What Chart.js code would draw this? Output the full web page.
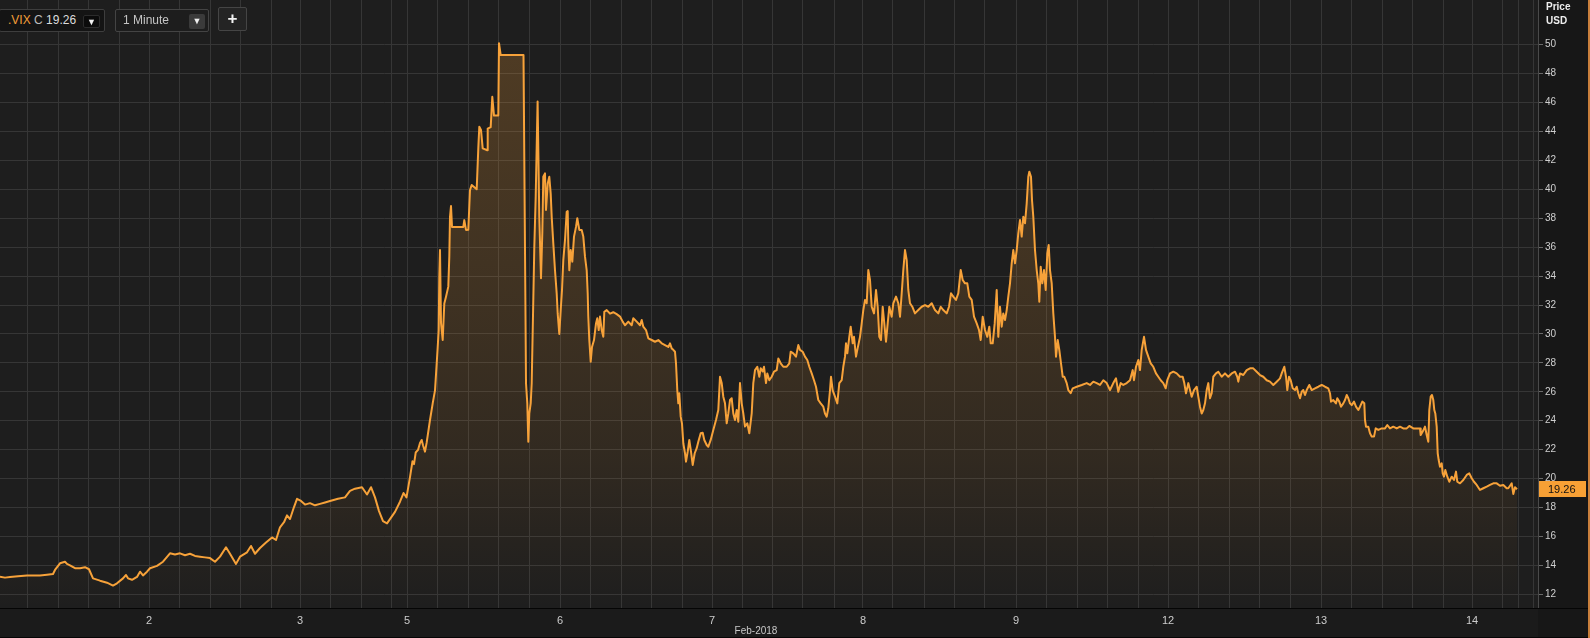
<!DOCTYPE html>
<html>
<head>
<meta charset="utf-8">
<script src="https://cdn.jsdelivr.net/npm/chart.js@4.4.1/dist/chart.umd.min.js"></script>
<style>
html,body{margin:0;padding:0;background:#171717;overflow:hidden}
#wrap{position:relative;width:1590px;height:638px}
#c{position:absolute;left:0;top:0}
.tb{position:absolute;box-sizing:border-box;font-family:'Liberation Sans',Arial,sans-serif;font-size:12px;line-height:20px;white-space:nowrap}
#sym{left:-1px;top:9px;width:106px;height:23px;background:#141414;border:1px solid #3e3e3e;border-radius:2px;padding-left:8px;color:#dcdcdc}
#sym .ric{color:#f29d38}
#sym .cl{color:#bbbbbb}
#intv{left:115px;top:9px;width:94px;height:23px;background:#1d1d1d;border:1px solid #444;border-radius:2px;padding-left:7px;color:#c4c4c4}
.dd{position:absolute;top:5px;width:17px;height:13px;border-radius:2px;font-size:9px;line-height:13px;text-align:center;color:#f0f0f0}
#sym .dd{left:83px;background:#0b0b0b;border:1px solid #2c2c2c;box-sizing:border-box}
#intv .dd{left:73px;top:4px;width:16px;height:15px;line-height:15px;background:#3a3a3a}
#plus{left:218px;top:7px;width:29px;height:24px;background:#242424;border:1px solid #454545;border-radius:2px;color:#f2f2f2;font-size:17px;font-weight:bold;text-align:center;line-height:21px}
</style>
</head>
<body>
<div id="wrap">
<canvas id="c" width="1590" height="638"></canvas>
<div class="tb" id="sym"><span class="ric">.VIX</span> <span class="cl">C</span> 19.26<span class="dd">&#9660;</span></div>
<div class="tb" id="intv">1 Minute<span class="dd">&#9660;</span></div>
<div class="tb" id="plus">+</div>
</div>
<script>
// ---- data: [time index, VIX value] per trading session ----
const day1 = [[0,13.22],[5,13.15],[10,13.2],[18,13.25],[27,13.29],[33,13.3],[40,13.3],[47,13.35],[53,13.4],[55,13.68],[60,14.14],[65,14.25],[67,14.1],[70,14.0],[75,13.8],[80,13.8],[85,13.87],[89,13.73],[93,13.1],[100,12.94],[107,12.8],[113,12.6],[117,12.76],[123,13.1],[126,13.33],[128,13.1],[132,13.0],[137,13.2],[140,13.56],[143,13.3],[147,13.56]];
const day2 = [[150,13.8],[157,13.96],[163,14.25],[170,14.83],[175,14.75],[180,14.83],[185,14.7],[190,14.8],[195,14.65],[200,14.6],[205,14.55],[210,14.5],[215,14.25],[220,14.6],[226,15.25],[230,14.8],[236,14.1],[240,14.6],[247,14.9],[251,15.34],[255,14.8],[260,15.2],[266,15.58],[272,15.93],[276,15.75],[280,16.63],[284,16.98],[287,17.46],[290,17.2],[294,18.03],[297,18.6]];
const day3 = [[301,18.45],[305,18.2],[310,18.3],[315,18.15],[320,18.25],[325,18.35],[330,18.45],[338,18.6],[345,18.7],[350,19.15],[355,19.3],[362,19.4],[367,18.9],[371,19.4],[375,18.7],[379,17.75],[383,17.05],[387,16.9],[391,17.3],[395,17.7],[400,18.4],[403.5,19.0],[406.5,18.7]];
const day5 = [[410,20.1],[412.5,21.2],[414,21.0],[415.7,21.8],[418,21.98],[420,22.46],[421.7,22.67],[423,22.3],[425,21.86],[426.7,22.5],[430,24.05],[432.7,25.2],[435,26.1],[436.7,27.97],[437.7,29.1],[438.7,30.27],[439.3,33.96],[440,35.8],[441,30.76],[442.7,29.58],[444.3,32.1],[446,32.57],[448.3,33.27],[449.3,35.34],[450,38.1],[451,38.84],[452,37.4],[456.7,37.4],[463.3,37.4],[464.3,37.87],[466,37.19],[468.3,37.2],[470,39.95],[471.7,40.3],[476.7,40.0],[478.3,42.83],[479.3,44.33],[481,44.1],[482.7,42.83],[487.3,42.7],[487.7,44.2],[490.7,44.3],[492.3,46.4],[494,45.1],[498.3,45.1],[499,50.1],[500.7,49.28],[523.5,49.28],[525,35.8],[526,26.6],[527.3,25.2],[528.3,22.55],[529.3,24.5],[530.7,25.2],[531.7,26.6],[533.3,32.35],[534.3,36.0],[535.7,39.5],[537.6,46.07],[539.3,38.1],[541,33.85],[542.3,36.96],[543.3,40.87],[545,41.1],[546,38.57],[547.7,40.4],[549.3,40.87],[550.7,39.7],[551.7,38.1],[553.3,36.26],[555,34.4],[556.7,32.8],[557.7,31.4],[559.3,30.0]];
const day6 = [[560.7,31.65],[562,33.04],[563.3,35.1],[565,36.5],[566.7,38.45],[567.7,38.5],[568.3,36.26],[569.3,34.4],[570.7,35.8],[572.3,35.0],[574,36.73],[576,37.4],[577.3,38.0],[579.3,37.19],[581.7,37.19],[583.3,36.73],[585,35.34],[586.7,34.4],[587.7,32.8],[588.3,31.2],[589.3,29.58],[590.7,28.08],[592,29.1],[594,29.58],[596,30.73],[597.3,31.08],[598.7,30.27],[600,31.2],[601.7,30.27],[603.3,29.8],[604.3,31.53],[606.7,31.65],[610,31.4],[613.3,31.5],[616.7,31.37],[620,31.2],[622.7,30.85],[625,30.6],[628.3,30.85],[631.7,30.6],[633.3,31.08],[636.7,30.85],[640,30.6],[641.7,30.96],[643.3,30.5],[646,30.27],[648.3,29.7],[651.7,29.58],[655,29.46],[658.3,29.58],[661.7,29.35],[665,29.23],[668.3,29.1],[670,29.35],[671.7,29.0],[673.3,28.9],[675,28.77],[676,27.97],[677.3,26.1],[678.3,25.2],[679.3,25.9],[680.7,24.28],[682,23.8],[683.3,22.44],[685,21.75],[686,21.17],[687.7,21.86],[689.3,22.67],[691,21.86],[692.7,20.94],[694.7,21.75],[696.7,22.1],[698.3,22.55],[700.7,23.13],[702.7,23.17],[704.3,22.67],[706.7,22.32],[708.3,22.2],[710.7,22.67]];
const day7 = [[713.3,23.36],[716,24.05],[718.3,24.74],[720,27.04],[721.7,26.6],[723.3,25.66],[725,25.2],[726.7,23.82],[728.3,24.5],[730,25.43],[731.7,25.55],[733.3,24.5],[735,24.05],[736.7,24.74],[738.3,23.93],[740,26.6],[741.7,25.2],[743.3,24.5],[745,23.6],[747.3,23.82],[749.3,23.13],[751.7,24.5],[753.3,26.6],[755,27.5],[757.3,27.73],[759.3,27.04],[760.7,27.62],[762.7,27.4],[764,27.73],[766,26.6],[767.3,27.27],[769.3,26.8],[771.7,27.04],[774,27.39],[776.7,27.5],[778.3,28.3],[780.7,27.97],[783.3,27.73],[786.7,27.73],[789.3,27.97],[790.7,28.77],[793.3,28.66],[796,28.43],[798.3,29.23],[800,28.9],[802.7,28.77],[805,28.43],[807.3,28.2],[809.3,27.73],[811.7,27.27],[814,26.8],[816,26.35],[818.3,25.43],[820.7,25.2],[823.3,24.97],[825,24.5],[826.7,24.28],[828.3,24.86],[830,26.1],[831,27.04],[832.7,26.1],[835,25.66],[837.3,25.2],[839.3,26.6],[841.7,26.8],[843.3,27.73],[845,28.43],[846,29.35],[847.3,28.66],[849.3,29.8],[850.7,30.5],[852.7,29.35],[854,29.8],[856,28.43],[857.3,28.9],[860,29.8],[861.7,30.73]];
const day8 = [[863.3,31.65],[865,32.35],[866.7,32.12],[868.3,34.42],[870,33.73],[871.7,31.88],[874,31.42],[876,33.04],[877.7,31.88],[879.3,29.8],[881,29.58],[882.7,31.88],[884.3,30.73],[886,29.46],[887.7,30.73],[889.3,31.88],[891.7,31.19],[893.3,32.12],[896,32.58],[898.3,32.12],[900,31.19],[901.7,32.81],[903.3,34.42],[905,35.8],[906.7,35.1],[908.3,33.04],[910,32.12],[912.3,31.88],[915,31.42],[918.3,31.65],[921.7,31.88],[925,32.0],[928.3,31.88],[931.7,32.12],[935,31.65],[938.3,31.42],[940.7,31.88],[943.3,31.65],[946.7,31.42],[949,31.88],[951,32.81],[953.3,32.58],[956,32.35],[958.3,32.81],[960.7,34.42],[962.7,33.73],[965,33.5],[967.3,33.5],[969.3,32.58],[971.7,32.35],[974,31.19],[976.7,30.73],[979,30.27],[980.7,29.58],[982.7,31.19],[985,30.27],[987.3,29.8],[989.3,30.5],[990.7,29.35],[992.7,29.35],[994.7,30.73],[996.7,33.04],[998.3,29.8],[1000,31.88],[1001.7,30.5],[1003.3,31.42],[1005,30.96],[1006.7,31.65],[1008.3,32.58],[1010,33.5],[1011.7,34.88],[1013.3,35.8],[1015,34.88]];
const day9 = [[1016.7,35.8],[1018.3,36.96],[1020,37.88],[1021.7,36.73],[1023.3,38.1],[1025,37.65],[1026.7,39.03],[1028.3,40.87],[1029.3,41.22],[1031,40.87],[1032,39.26],[1033.3,38.1],[1035,35.8],[1036.7,34.42],[1038.3,33.5],[1039.3,32.23],[1040.7,34.65],[1042.3,33.5],[1044,34.42],[1045.7,33.04],[1047.3,35.57],[1048.7,36.15],[1050,34.42],[1051.7,33.5],[1053.3,31.42],[1055,29.8],[1056,28.43],[1057.7,29.58],[1059.3,28.89],[1061,27.97],[1062.7,27.04],[1064.3,27.04],[1066.7,26.6],[1068.3,26.12],[1070.7,25.9],[1072.7,26.24],[1076.7,26.35],[1081.7,26.47],[1086.7,26.6],[1090,26.47],[1093.3,26.7],[1096.7,26.6],[1100,26.47],[1103.3,26.8],[1106.7,26.6],[1110,26.12],[1113.3,26.6],[1116,26.93],[1118.3,26.0],[1120.7,26.6],[1123.3,26.47],[1126.7,26.6],[1130,26.8],[1132.7,27.5],[1134,26.8],[1136,27.73],[1138.3,28.2],[1140,27.5],[1141.7,28.9],[1144,29.8],[1146,28.9],[1148.3,28.43],[1150.7,27.97],[1153.3,27.73],[1156,27.27],[1158.3,27.04],[1160.7,26.8],[1163.3,26.6],[1165.7,26.24],[1167.3,26.8]];
const day12 = [[1170,27.27],[1173.3,27.39],[1176.7,27.27],[1180,27.04],[1182.7,27.04],[1184.3,26.6],[1186,25.9],[1188.3,26.6],[1190,26.12],[1191.7,25.66],[1194,26.12],[1196.7,26.35],[1198.3,25.66],[1200,24.97],[1201.7,24.5],[1203.3,24.74],[1205,25.2],[1206.7,26.12],[1208.3,26.6],[1210,25.55],[1211.7,25.9],[1213.3,27.04],[1216,27.27],[1218.3,27.39],[1221.7,27.04],[1225,27.27],[1228.3,27.04],[1231.7,27.27],[1235,27.39],[1237.3,27.04],[1238.3,26.7],[1240,27.27],[1243.3,27.16],[1246.7,27.5],[1250,27.62],[1253.3,27.62],[1256.7,27.39],[1260,27.16],[1263.3,27.04],[1266.7,26.8],[1270,26.7],[1273.3,26.47],[1276.7,26.7],[1280,26.93],[1281.7,27.27],[1284.3,27.73],[1286,27.04],[1287.3,26.12],[1289,27.04],[1290.7,26.8],[1292.7,26.24],[1295,26.12],[1296.7,26.35],[1298.3,25.9],[1300,25.55],[1301.7,26.0],[1303.3,26.12],[1305,25.78],[1306.7,26.12],[1309.3,26.47],[1311.7,26.12],[1315,26.24],[1318.3,26.35]];
const day13 = [[1321.7,26.47],[1325,26.35],[1328.3,26.24],[1330,25.9],[1331,25.32],[1333.3,25.43],[1336,25.2],[1337.3,25.55],[1339.3,25.32],[1341,24.97],[1343.3,25.2],[1345,25.43],[1346.7,25.78],[1348.3,25.55],[1350,25.2],[1351.7,25.08],[1354,25.32],[1356,24.97],[1358.3,24.74],[1360,24.97],[1362.3,25.32],[1364.3,25.2],[1365,24.05],[1366,23.59],[1368.3,23.59],[1370,23.13],[1371.7,22.9],[1374,22.9],[1375.7,23.47],[1378.3,23.36],[1381.7,23.47],[1385,23.47],[1387.3,23.7],[1390,23.47],[1393.3,23.59],[1396.7,23.47],[1400,23.59],[1403.3,23.47],[1406.7,23.47],[1409.3,23.64],[1413.3,23.47],[1416.7,23.47],[1420,23.47],[1420.7,23.01],[1422.7,23.25],[1425,23.59],[1426.7,23.01],[1428.3,22.55],[1429.3,24.74],[1430.7,25.66],[1432,25.78],[1433.3,25.43],[1434.3,24.74],[1435.3,24.5],[1436.7,23.59],[1437.7,21.75],[1438.7,21.28],[1440,20.82],[1441.7,21.05],[1442.7,20.36],[1444,20.13],[1445.3,20.59],[1447.3,20.13],[1449.3,19.78],[1451.7,20.13],[1454,19.9],[1456,20.48],[1457.3,19.78],[1460,19.67],[1463.3,19.9],[1466.7,20.25],[1469.3,20.36],[1471.7,20.02]];
const day14 = [[1474,19.78],[1476.7,19.56],[1480,19.21],[1483.3,19.33],[1486.7,19.44],[1490,19.56],[1493.3,19.67],[1496.7,19.67],[1500,19.5],[1503.3,19.56],[1506.7,19.33],[1508.3,19.33],[1511.7,19.67],[1513.3,18.94],[1515,19.4],[1517,19.26]];

// session starts on the time axis and their labels
const sessionStarts = [-3, 149, 300, 407, 560, 712, 863, 1016, 1168, 1321, 1472];
const sessionLabels = ['1', '2', '3', '5', '6', '7', '8', '9', '12', '13', '14'];
const nowMarker = 1518;
const timeMin = 0, timeMax = 1538;
const priceTicks = [12,14,16,18,20,22,24,26,28,30,32,34,36,38,40,42,44,46,48,50];
const priceMin = 11.05, priceMax = 53.09;
const lastPrice = 19.26;
const axisTitle = ['Price', 'USD'];
const monthLabel = 'Feb-2018';

const series = [].concat(day1, day2, day3, day5, day6, day7, day8, day9, day12, day13, day14)
  .map(p => ({x: p[0], y: p[1]}));

// grid positions: every fifth of a session
const sessionLen = 152;
const gridTicks = [];
sessionStarts.forEach((s, i) => {
  const end = i + 1 < sessionStarts.length ? sessionStarts[i + 1] : timeMax;
  for (let k = 0; k < 5; k++) {
    const v = s + k * sessionLen / 5;
    if (v < end - 5 && v > timeMin && v < timeMax) gridTicks.push(Math.round(v));
  }
});
gridTicks.push(nowMarker);
gridTicks.sort((a, b) => a - b);

const FONT = "'Liberation Sans', Arial, sans-serif";
const ORANGE = '#f7a23a';

const decor = {
  id: 'decor',
  beforeDraw(chart) {
    const {ctx, chartArea: a, width, height} = chart;
    ctx.save();
    ctx.fillStyle = '#171717';
    ctx.fillRect(0, 0, width, height);
    ctx.fillStyle = '#1b1b1b';
    ctx.fillRect(0, a.bottom, a.right, height - a.bottom);
    ctx.fillStyle = '#1e1e1e';
    ctx.fillRect(a.left, a.top, a.right - a.left, a.bottom - a.top);
    ctx.restore();
  },
  afterDraw(chart) {
    const {ctx, chartArea: a, width, height} = chart;
    const ys = chart.scales.y;
    ctx.save();
    // separators
    ctx.fillStyle = '#050505';
    ctx.fillRect(0, a.bottom, width, 1);
    ctx.fillRect(0, height - 1, width, 1);
    // axis title
    ctx.fillStyle = '#eeeeee';
    ctx.font = "bold 10px " + FONT;
    ctx.textBaseline = 'middle';
    ctx.textAlign = 'left';
    ctx.fillText(axisTitle[0], a.right + 8, 7);
    ctx.fillText(axisTitle[1], a.right + 8, 21);
    // month label
    ctx.fillStyle = '#c8c8c8';
    ctx.font = "10px " + FONT;
    ctx.textAlign = 'center';
    ctx.fillText(monthLabel, (a.left + a.right) / 2 - 13, a.bottom + 23);
    // last price tag
    const py = Math.round(ys.getPixelForValue(lastPrice));
    ctx.fillStyle = '#f7a035';
    ctx.fillRect(a.right + 1, py - 8, 47, 16);
    ctx.fillStyle = '#111111';
    ctx.font = "11px " + FONT;
    ctx.textAlign = 'left';
    ctx.fillText(lastPrice.toFixed(2), a.right + 10, py + 1);
    // right edge accent
    ctx.fillStyle = '#c97f3c';
    ctx.fillRect(width - 2, 0, 2, height);
    ctx.restore();
  }
};

new Chart(document.getElementById('c'), {
  type: 'line',
  data: {
    datasets: [{
      data: series,
      borderColor: ORANGE,
      borderWidth: 2,
      borderJoinStyle: 'round',
      pointRadius: 0,
      tension: 0,
      fill: 'start',
      backgroundColor: (context) => {
        const {ctx, chartArea} = context.chart;
        if (!chartArea) return 'rgba(247,160,55,0.1)';
        const g = ctx.createLinearGradient(0, chartArea.top, 0, chartArea.bottom);
        g.addColorStop(0, 'rgba(247,160,55,0.24)');
        g.addColorStop(0.5, 'rgba(247,160,55,0.15)');
        g.addColorStop(0.75, 'rgba(247,160,55,0.09)');
        g.addColorStop(0.88, 'rgba(247,160,55,0.045)');
        g.addColorStop(1, 'rgba(247,160,55,0.0)');
        return g;
      }
    }]
  },
  options: {
    responsive: false,
    animation: false,
    devicePixelRatio: 1,
    layout: {padding: 0},
    plugins: {legend: {display: false}, tooltip: {enabled: false}},
    scales: {
      x: {
        type: 'linear',
        position: 'bottom',
        min: timeMin,
        max: timeMax,
        afterBuildTicks: s => { s.ticks = gridTicks.map(v => ({value: v})); },
        afterFit: s => { s.height = 30; s.paddingLeft = 0; s.paddingRight = 0; },
        grid: {color: '#363636', lineWidth: 1, drawTicks: false},
        border: {display: false},
        ticks: {
          autoSkip: false, maxRotation: 0, padding: 6,
          color: '#cccccc', font: {family: FONT, size: 11},
          callback: (v) => {
            const i = sessionStarts.indexOf(v);
            return i >= 0 ? sessionLabels[i] : '';
          }
        }
      },
      y: {
        position: 'right',
        min: priceMin,
        max: priceMax,
        afterBuildTicks: s => { s.ticks = priceTicks.map(v => ({value: v})); },
        afterFit: s => { s.width = 52; s.paddingTop = 0; s.paddingBottom = 0; },
        grid: {color: '#363636', tickColor: '#6a6a6a', tickLength: 5, lineWidth: 1},
        border: {display: true, color: '#4a4a4a'},
        ticks: {padding: 2, color: '#d0d0d0', font: {family: FONT, size: 10}, callback: v => String(v)}
      }
    }
  },
  plugins: [decor]
});
</script>
</body>
</html>
